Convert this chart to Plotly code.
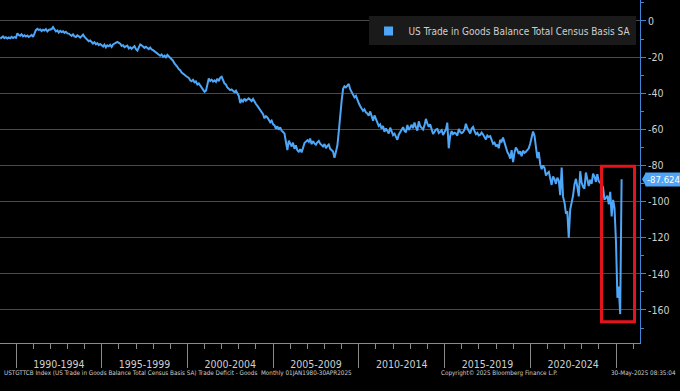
import pandas as pd
import plotly.graph_objects as go

# ---- data (US goods trade balance, USD bn, monthly, Jan 1989 - Apr 2025) ----
v1989 = [-9.8, -9.2, -8.6, -9.5, -9.0, -9.7, -9.1, -9.6, -8.8, -9.4, -8.9, -9.3]
v1990 = [-6.9, -7.8, -8.2, -7.4, -8.5, -7.9, -8.6, -8.1, -8.9, -8.3, -7.7, -8.8]
v1991 = [-6.2, -5.1, -4.4, -5.0, -4.7, -5.6, -4.9, -5.3, -4.5, -5.8, -5.0, -4.6]
v1992 = [-4.5, -3.4, -4.9, -5.8, -5.2, -6.4, -5.5, -6.1, -5.7, -6.6, -6.0, -6.9]
v1993 = [-7.0, -7.6, -8.3, -7.4, -8.6, -8.9, -8.0, -8.5, -9.2, -8.4, -7.6, -8.8]
v1994 = [-9.5, -10.4, -11.2, -10.8, -11.9, -12.5, -11.8, -12.9, -12.3, -13.4, -12.8, -13.6]
v1995 = [-14.2, -13.1, -14.6, -13.5, -14.0, -13.2, -14.4, -13.0, -12.4, -12.0, -11.6, -12.1]
v1996 = [-12.6, -13.8, -13.4, -14.5, -14.0, -13.6, -15.2, -14.6, -15.4, -14.8, -13.9, -15.6]
v1997 = [-16.4, -14.8, -13.0, -13.5, -14.2, -14.9, -14.3, -15.1, -15.6, -14.7, -15.8, -16.2]
v1998 = [-16.9, -17.6, -18.4, -18.9, -19.3, -18.6, -19.8, -19.2, -20.1, -18.8, -19.5, -20.3]
v1999 = [-21.2, -22.0, -23.5, -24.8, -25.4, -26.6, -27.3, -28.6, -29.0, -29.8, -30.5, -31.2]
v2000 = [-31.5, -32.8, -33.4, -32.6, -34.0, -33.5, -35.2, -34.6, -35.8, -36.9, -37.5, -39.2]
v2001 = [-38.6, -34.4, -31.8, -33.2, -32.5, -33.6, -32.9, -33.8, -32.0, -33.3, -31.4, -30.9]
v2002 = [-33.0, -34.6, -35.2, -36.8, -37.5, -38.3, -37.9, -38.8, -39.4, -38.6, -40.2, -41.5]
v2003 = [-45.5, -43.8, -44.6, -43.0, -44.2, -43.5, -42.8, -43.6, -44.4, -43.2, -44.8, -46.0]
v2004 = [-47.0, -48.2, -49.5, -50.8, -51.6, -53.9, -52.7, -53.4, -54.8, -56.1, -55.2, -57.3]
v2005 = [-57.8, -59.6, -58.4, -60.2, -58.9, -60.8, -61.5, -62.4, -67.0, -71.5, -66.3, -68.2]
v2006 = [-69.5, -67.4, -70.8, -68.9, -71.6, -72.4, -71.0, -72.8, -70.2, -67.6, -66.8, -66.0]
v2007 = [-66.9, -65.1, -68.2, -66.5, -67.8, -68.5, -67.2, -66.4, -67.9, -68.7, -69.5, -68.1]
v2008 = [-70.5, -69.2, -68.4, -70.8, -71.6, -72.3, -75.8, -72.0, -69.0, -61.0, -51.0, -44.0]
v2009 = [-37.5, -36.2, -36.8, -35.6, -34.9, -37.8, -39.5, -40.6, -42.3, -41.5, -44.2, -45.6]
v2010 = [-47.2, -48.5, -49.8, -48.9, -50.6, -51.2, -52.5, -50.1, -53.4, -55.2, -52.3, -54.6]
v2011 = [-56.8, -58.1, -57.3, -59.6, -58.2, -61.4, -59.5, -60.8, -62.3, -59.1, -61.0, -63.2]
v2012 = [-62.4, -64.1, -65.8, -63.0, -61.5, -60.2, -58.8, -60.9, -61.7, -57.6, -60.3, -59.0]
v2013 = [-57.5, -59.4, -56.2, -58.8, -60.7, -55.6, -58.3, -59.2, -60.1, -57.8, -54.2, -56.9]
v2014 = [-58.6, -57.2, -60.3, -62.5, -61.4, -60.1, -59.8, -62.0, -61.3, -60.5, -63.1, -61.8]
v2015 = [-60.0, -56.3, -70.5, -63.8, -61.0, -62.6, -61.9, -62.3, -63.5, -59.8, -61.4, -62.1]
v2016 = [-61.5, -60.2, -56.9, -59.4, -60.8, -62.3, -59.6, -58.7, -61.0, -62.7, -62.0, -63.4]
v2017 = [-63.0, -61.8, -62.9, -64.5, -65.6, -63.4, -64.2, -63.8, -66.3, -68.0, -67.4, -69.5]
v2018 = [-68.4, -70.5, -65.9, -66.8, -64.6, -67.5, -70.8, -72.6, -73.9, -76.2, -71.5, -78.1]
v2019 = [-72.8, -70.1, -71.4, -73.6, -72.2, -74.9, -71.8, -73.0, -72.4, -71.6, -70.5, -67.8]
v2020 = [-64.8, -61.2, -63.5, -70.8, -76.0, -72.6, -79.3, -82.1, -80.0, -81.4, -85.6, -84.3]
v2021 = [-83.6, -86.9, -90.8, -86.1, -87.5, -90.2, -86.8, -88.4, -96.5, -81.2, -97.4, -100.6]
v2022 = [-106.8, -105.3, -120.2, -104.6, -101.0, -96.8, -90.5, -87.4, -91.8, -97.1, -83.2, -89.6]
v2023 = [-91.9, -92.8, -83.9, -88.6, -91.4, -87.9, -90.2, -84.6, -86.0, -89.1, -84.8, -88.8]
v2024 = [-89.7, -90.4, -92.1, -99.0, -97.9, -96.8, -101.5, -94.6, -108.2, -99.1, -103.5, -122.1]
v2025 = [-153.3, -147.0, -162.3, -87.624]

series_name = "US Trade in Goods Balance Total Census Basis SA"
last_label = "-87.624"

period_labels = ["1990-1994", "1995-1999", "2000-2004", "2005-2009",
                 "2010-2014", "2015-2019", "2020-2024"]
period_label_dates = ["1992-07-02", "1997-07-02", "2002-07-02", "2007-07-02",
                      "2012-07-02", "2017-07-02", "2022-07-02"]
period_bounds = ["1990-01-01", "1995-01-01", "2000-01-01", "2005-01-01",
                 "2010-01-01", "2015-01-01", "2020-01-01", "2025-01-01"]

y_tickvals = [0, -20, -40, -60, -80, -100, -120, -140, -160]
y_ticktext = ["0", "-20", "-40", "-60", "-80", "-100", "-120", "-140", "-160"]

x_range = ["1989-01-25", "2026-05-27"]
y_range = [-178.3, 11.6]

highlight_x = ["2024-02-27", "2026-01-30"]
highlight_y = [-80.4, -166.6]

footer_left = ("USTGTTCB Index (US Trade in Goods Balance Total Census Basis SA) "
               "Trade Deficit - Goods  Monthly 01JAN1980-30APR2025")
footer_mid = "Copyright\u00a9 2025 Bloomberg Finance L.P."
footer_right = "30-May-2025 08:35:04"

# ---- build ----
values = (v1989 + v1990 + v1991 + v1992 + v1993 + v1994 + v1995 + v1996 + v1997 +
          v1998 + v1999 + v2000 + v2001 + v2002 + v2003 + v2004 + v2005 + v2006 +
          v2007 + v2008 + v2009 + v2010 + v2011 + v2012 + v2013 + v2014 + v2015 +
          v2016 + v2017 + v2018 + v2019 + v2020 + v2021 + v2022 + v2023 + v2024 + v2025)
dates = pd.date_range("1989-01-01", periods=len(values), freq="MS") + pd.offsets.MonthEnd(0)

BLUE = "#4da6f7"
NARROW = "DejaVu Sans Condensed, Liberation Sans Narrow, sans-serif"
TXT = "#cfcfcf"

fig = go.Figure()
fig.add_trace(go.Scatter(x=dates, y=values, mode="lines",
                         line=dict(color=BLUE, width=2), showlegend=False,
                         name=series_name))
# legend entry with square swatch (lives on the period-label axis so it is drawn)
fig.add_trace(go.Scatter(x=[None], y=[None], mode="markers", xaxis="x2",
                         marker=dict(symbol="square", size=9, color=BLUE),
                         name=series_name, showlegend=True))

fig.update_layout(
    width=680, height=391,
    margin=dict(l=0, r=40, t=0, b=48),
    paper_bgcolor="#000000", plot_bgcolor="#000000",
    font=dict(family=NARROW, color=TXT, size=10),
    showlegend=True,
    legend=dict(x=0.993, xanchor="right", y=0.952, yanchor="top",
                bgcolor="#1a1a1a", borderwidth=0,
                font=dict(family=NARROW, size=10, color=TXT),
                itemwidth=30, tracegroupgap=0),
    xaxis=dict(type="date", range=x_range, showgrid=False, zeroline=False,
               showline=True, linecolor="#8a8a8a", linewidth=1,
               tickvals=period_bounds, showticklabels=False,
               ticks="outside", ticklen=24, tickcolor="#8a8a8a", tickwidth=1,
               minor=dict(dtick="M12", tick0="1990-01-01", ticks="outside",
                          ticklen=5, tickcolor="#8a8a8a", showgrid=False)),
    xaxis2=dict(type="date", range=x_range, overlaying="x", anchor="y",
                side="bottom", showgrid=False, zeroline=False, showline=False,
                tickvals=period_label_dates, ticktext=period_labels,
                ticks="outside", ticklen=11, tickcolor="rgba(0,0,0,0)",
                tickfont=dict(family=NARROW, size=10.5, color=TXT)),
    yaxis=dict(side="right", range=y_range, zeroline=False,
               showgrid=True, gridcolor="#4a4a4a", gridwidth=1,
               showline=True, linecolor="#3f86d6", linewidth=1,
               tickvals=y_tickvals, ticktext=y_ticktext,
               ticks="outside", ticklen=5, tickcolor="#3f86d6",
               tickfont=dict(family=NARROW, size=10.5, color=TXT),
               minor=dict(dtick=10, ticks="outside", ticklen=3,
                          tickcolor="#3f86d6", showgrid=False)),
)

# highlight rectangle around the recent swing
fig.add_shape(type="rect", xref="x", yref="y",
              x0=highlight_x[0], x1=highlight_x[1],
              y0=highlight_y[0], y1=highlight_y[1],
              line=dict(color="#e3141c", width=3), fillcolor="rgba(0,0,0,0)")

# last value tag
fig.add_shape(type="path", xref="paper", yref="y",
              xsizemode="pixel", ysizemode="pixel",
              xanchor=1, yanchor=values[-1],
              path="M 2 0 L 6 -7 L 6 7 Z",
              fillcolor=BLUE, line=dict(width=0))
fig.add_annotation(x=1, xref="paper", y=values[-1], yref="y",
                   xanchor="left", xshift=5, showarrow=False,
                   text=last_label, bgcolor=BLUE, borderpad=1,
                   font=dict(family=NARROW, size=9.5, color="#ffffff"))

# footer
for txt, xpos, anchor in [(footer_left, 0.003, "left"),
                          (footer_mid, 0.781, "center"),
                          (footer_right, 1.059, "right")]:
    fig.add_annotation(x=xpos, xref="paper", y=-0.087, yref="paper",
                       xanchor=anchor, yanchor="middle", showarrow=False,
                       text=txt, font=dict(family=NARROW, size=6.3, color=TXT))

fig.write_html("out.html",
               config={"displayModeBar": False},
               post_script="document.body.style.margin='0';"
                           "document.body.style.padding='0';")
